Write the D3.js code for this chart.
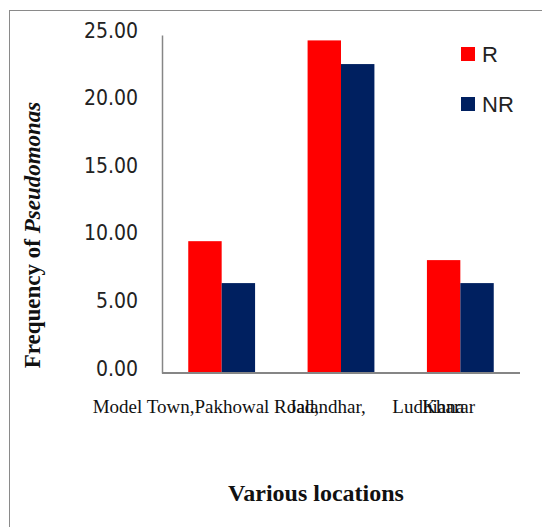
<!DOCTYPE html>
<html><head><meta charset="utf-8">
<script src="https://cdn.jsdelivr.net/npm/d3@7"></script>
<style>html,body{margin:0;padding:0;background:#fff;}</style>
</head><body>
<div id="chart"></div>
<script>
const categories = ["Model Town", "Jalandhar", "Kharar"];
const seriesNames = ["R", "NR"];
const valuesR = [9.75, 24.6, 8.35];
const valuesNR = [6.65, 22.85, 6.65];
const yTicks = [0, 5, 10, 15, 20, 25];
const xAxisTexts = ["Model Town,Pakhowal Road,", "Jalandhar,", "Ludhiana", "Kharar"];
const xAxisTextCat = [0, 1, 2, 2];
const yTitle = ["Frequency of ", "Pseudomonas"];
const xTitle = "Various locations";

const W = 542, H = 527;
const colors = {R: "#FF0000", NR: "#002060"};
const svg = d3.select("#chart").append("svg").attr("width", W).attr("height", H);

// outer border
svg.append("rect").attr("x", 9.5).attr("y", 10.5).attr("width", 600).attr("height", 600)
  .attr("fill", "none").attr("stroke", "#8a8a8a").attr("stroke-width", 1);

const plot = {left: 162, right: 520, top: 35, bottom: 373};
const x0 = d3.scaleBand().domain(categories).range([plot.left, plot.right]).paddingInner(0.44).paddingOuter(0.22);
const x1 = d3.scaleBand().domain(seriesNames).range([0, x0.bandwidth()]);
const y = d3.scaleLinear().domain([0, 25]).range([plot.bottom, plot.top]);

const data = categories.map((c, i) => ({cat: c, R: valuesR[i], NR: valuesNR[i]}));

const g = svg.append("g");
g.selectAll("g.cat").data(data).join("g").attr("class", "cat")
  .attr("transform", d => `translate(${x0(d.cat)},0)`)
  .selectAll("rect").data(d => seriesNames.map(s => ({s, v: d[s]}))).join("rect")
  .attr("x", d => x1(d.s)).attr("width", x1.bandwidth())
  .attr("y", d => y(d.v)).attr("height", d => y(0) - y(d.v))
  .attr("fill", d => colors[d.s]);

// y axis
const yAxis = d3.axisLeft(y).tickValues(yTicks).tickSize(0).tickPadding(24).tickFormat(d3.format(".2f"));
const ya = svg.append("g").attr("transform", `translate(${plot.left},0)`).call(yAxis);
ya.select(".domain").attr("stroke", "#868686").attr("stroke-width", 1.5);
ya.selectAll("text").attr("font-family", "'Liberation Sans Narrow','DejaVu Sans Condensed',sans-serif")
  .attr("font-size", 21).attr("fill", "#222").attr("dy", "0.1em");

// x axis line
svg.append("line").attr("x1", plot.left).attr("x2", plot.right).attr("y1", y(0)).attr("y2", y(0))
  .attr("stroke", "#868686").attr("stroke-width", 2);

// x axis texts
const offs = [-129, -52, -68, -38];
svg.append("g").selectAll("text").data(xAxisTexts).join("text")
  .attr("x", (d, i) => x0(categories[xAxisTextCat[i]]) + x0.bandwidth() / 2 + offs[i])
  .attr("y", 413)
  .attr("font-family", "'Liberation Serif','Times New Roman',serif").attr("font-size", 19)
  .attr("fill", "#111").text(d => d);

// y title
const yt = svg.append("text").attr("transform", "translate(40,235) rotate(-90)")
  .attr("text-anchor", "middle").attr("font-family", "'Liberation Serif',serif")
  .attr("font-size", 23).attr("font-weight", "bold").attr("fill", "#111");
yt.append("tspan").text(yTitle[0]);
yt.append("tspan").attr("font-style", "italic").text(yTitle[1]);

// x title
svg.append("text").attr("x", 316).attr("y", 501).attr("text-anchor", "middle")
  .attr("font-family", "'Liberation Serif',serif").attr("font-size", 24).attr("font-weight", "bold")
  .attr("fill", "#111").text(xTitle);

// legend
const lg = svg.append("g").selectAll("g").data(seriesNames).join("g")
  .attr("transform", (d, i) => `translate(461,${47 + i * 50})`);
lg.append("rect").attr("width", 14).attr("height", 14).attr("fill", d => colors[d]);
lg.append("text").attr("x", 21).attr("y", 15).attr("font-family", "'Liberation Sans',Arial,sans-serif")
  .attr("font-size", 22).attr("fill", "#222").text(d => d);
</script>
</body></html>
